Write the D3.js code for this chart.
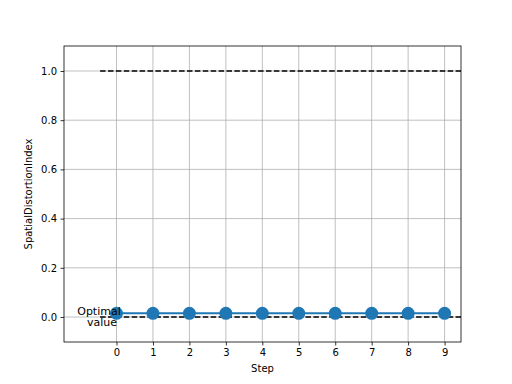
<!DOCTYPE html>
<html>
<head>
<meta charset="utf-8">
<script src="https://cdn.jsdelivr.net/npm/d3@7"></script>
<style>
  body { margin: 0; background: #fff; }
  text { font-family: "DejaVu Sans", sans-serif; }
</style>
</head>
<body>
<div id="chart"></div>
<script>
'use strict';

// data
const steps = [0, 1, 2, 3, 4, 5, 6, 7, 8, 9];
const values = [0.015, 0.015, 0.015, 0.015, 0.015, 0.015, 0.015, 0.015, 0.015, 0.015];
const optimalLines = [1.0, 0.0];
const yTicks = [0.0, 0.2, 0.4, 0.6, 0.8, 1.0];
const xLabel = 'Step';
const yLabel = 'SpatialDistortionIndex';
const optimalText = ['Optimal', 'value'];

const W = 512, H = 384;
const margin = { top: 46, right: 51, bottom: 42, left: 64 };
const width = W - margin.left - margin.right,
     height = H - margin.top - margin.bottom;

const svg = d3.select('#chart').append('svg')
    .attr('width', W)
    .attr('height', H);

const g = svg.append('g')
    .attr('transform', `translate(${margin.left},${margin.top})`);

const xScale = d3.scaleLinear().domain([-1.44, 9.45]).range([0, width]);
const yScale = d3.scaleLinear().domain([-0.1016, 1.1016]).range([height, 0]);

// grid
g.append('g').selectAll('line')
    .data(steps)
    .enter()
    .append('line')
    .attr('x1', d => xScale(d)).attr('x2', d => xScale(d))
    .attr('y1', 0).attr('y2', height)
    .style('stroke', '#b0b0b0').style('stroke-width', 0.8);

g.append('g').selectAll('line')
    .data(yTicks)
    .enter()
    .append('line')
    .attr('x1', 0).attr('x2', width)
    .attr('y1', d => yScale(d)).attr('y2', d => yScale(d))
    .style('stroke', '#b0b0b0').style('stroke-width', 0.8);

// optimal dashed lines
g.append('g').selectAll('line')
    .data(optimalLines)
    .enter()
    .append('line')
    .attr('x1', xScale(-0.45)).attr('x2', width)
    .attr('y1', d => yScale(d)).attr('y2', d => yScale(d))
    .style('stroke', '#000').style('stroke-width', 1.5)
    .style('stroke-dasharray', '5.5,2.4');

// series
const line = d3.line()
    .x((d, i) => xScale(steps[i]))
    .y(d => yScale(d));

g.append('path')
    .datum(values)
    .attr('d', line)
    .style('fill', 'none')
    .style('stroke', '#1f77b4')
    .style('stroke-width', 2);

g.append('g').selectAll('circle')
    .data(values)
    .enter()
    .append('circle')
    .attr('cx', (d, i) => xScale(steps[i]))
    .attr('cy', d => yScale(d))
    .attr('r', 6.5)
    .style('fill', '#1f77b4');

// annotation
const annX = xScale(-0.48);
const ann = g.append('text')
    .attr('x', annX)
    .attr('y', yScale(0))
    .attr('text-anchor', 'middle')
    .style('font-size', '11px')
    .style('fill', '#000');
ann.append('tspan').attr('x', annX).attr('dy', -2.5).text(optimalText[0]);
ann.append('tspan').attr('x', annX + 3).attr('dy', 11.5).text(optimalText[1]);

// axes
const xAxis = d3.axisBottom(xScale).tickValues(steps).tickFormat(d3.format('d')).tickSize(3.5).tickPadding(3.5);
const yAxis = d3.axisLeft(yScale).tickValues(yTicks).tickFormat(d3.format('.1f')).tickSize(3.5).tickPadding(3.5);

const xg = g.append('g').attr('transform', `translate(0,${height})`).call(xAxis);
const yg = g.append('g').call(yAxis);

[xg, yg].forEach(a => {
    a.select('.domain').remove();
    a.selectAll('.tick line').style('stroke', '#000').style('stroke-width', 0.8);
    a.selectAll('.tick text').style('font-size', '10px').style('fill', '#000')
        .style('font-family', '"DejaVu Sans", sans-serif');
});

// frame
g.append('rect')
    .attr('width', width).attr('height', height)
    .style('fill', 'none').style('stroke', '#000').style('stroke-width', 0.8);

// labels
svg.append('text')
    .attr('x', margin.left + width / 2)
    .attr('y', 372)
    .attr('text-anchor', 'middle')
    .style('font-size', '10px')
    .text(xLabel);

svg.append('text')
    .attr('transform', `translate(32,${margin.top + height / 2}) rotate(-90)`)
    .attr('text-anchor', 'middle')
    .style('font-size', '10px')
    .text(yLabel);
</script>
</body>
</html>
